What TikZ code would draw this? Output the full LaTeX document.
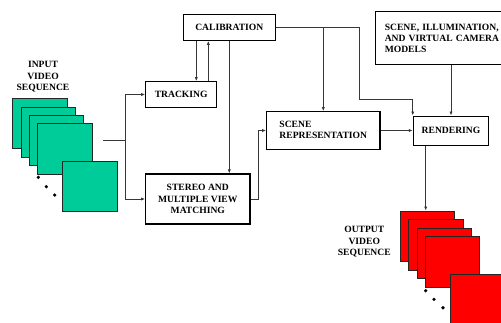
\documentclass[tikz,border=0pt]{standalone}
\usepackage{fontspec}
\setmainfont{Liberation Serif}
\usetikzlibrary{arrows.meta}
\definecolor{framegreen}{RGB}{0,204,153}
\definecolor{framered}{RGB}{255,0,0}
\definecolor{linegray}{RGB}{55,55,55}
\begin{document}
\begin{tikzpicture}[x=1pt,y=-1pt,
  txt/.style={font=\bfseries\fontsize{9.6}{11.5}\selectfont, text=black},
  box/.style={txt, draw=black, line width=1.1pt, fill=white, align=center, inner sep=0pt},
  framein/.style={draw=black!85, fill=framegreen, line width=1pt, minimum width=54.5pt, minimum height=50.5pt, inner sep=0pt},
  frameout/.style={draw=black!85, fill=framered, line width=1pt, minimum width=54.5pt, minimum height=50.5pt, inner sep=0pt},
  conn/.style={draw=linegray, line width=0.8pt},
  arr/.style={conn, -{Latex[length=4pt,width=3.2pt]}},
  dot/.style={circle, fill=black, inner sep=0pt, minimum size=3.6pt}
]
\useasboundingbox (0,0) rectangle (501,322);
\clip (0,0) rectangle (501,322);
\fill[white] (0,0) rectangle (501,322);

% input frames
\node[framein] (in1) at (40,123.7) {};
\node[framein] (in2) at (48.5,132.3) {};
\node[framein] (in3) at (56.7,140.3) {};
\node[framein] (in4) at (64.8,148.8) {};
\node[framein] (in5) at (90.2,186.7) {};
\node[dot] (id1) at (38.3,177.3) {};
\node[dot] (id2) at (46.3,186.7) {};
\node[dot] (id3) at (54.7,195) {};
\node[txt, align=center] (inlab) at (43,77) {INPUT\\VIDEO\\SEQUENCE};

% output frames
\node[frameout] (out1) at (427.7,236.3) {};
\node[frameout] (out2) at (436.2,245) {};
\node[frameout] (out3) at (444.5,253.7) {};
\node[frameout] (out4) at (452.7,261.8) {};
\node[frameout] (out5) at (478,299.5) {};
\node[dot] (od1) at (425.7,290.7) {};
\node[dot] (od2) at (434,299.3) {};
\node[dot] (od3) at (443,307.7) {};
\node[txt, align=center] (outlab) at (364.3,241.7) {OUTPUT\\VIDEO\\SEQUENCE};

% boxes
\node[box, minimum width=92pt, minimum height=25.6pt] (calib) at (229.3,27.5) {CALIBRATION};
\node[box, minimum width=71pt, minimum height=25.6pt] (track) at (181.2,94.5) {TRACKING};
\node[box, minimum width=104.3pt, minimum height=50pt] (stereo) at (197.8,199) {STEREO AND\\MULTIPLE VIEW\\MATCHING};
\node[box, minimum width=113.3pt, minimum height=37.6pt] (scene) at (323.3,130.5)
  {\renewcommand{\arraystretch}{0.96}\begin{tabular}{@{}l@{}}SCENE\\REPRESENTATION\end{tabular}};
\node[box, minimum width=75.4pt, minimum height=29.3pt] (render) at (451,130.7) {RENDERING};
\node[box, anchor=north west, font=\bfseries\fontsize{9.6}{10.8}\selectfont,
      minimum width=140pt, minimum height=53.3pt, text width=121pt, inner xsep=9.3pt, align=left] (models) at (374.7,11)
      {SCENE, ILLUMINATION,\\AND VIRTUAL CAMERA\\MODELS};

% connectors
\coordinate (in0) at (103,140.7);
\coordinate (j) at (125,140.7);
\draw[conn] (in0) -- (j);
\draw[arr] (j) |- (track.west);
\draw[arr] (j) |- (stereo.west);

\coordinate (dn) at (196.3,0);
\coordinate (up) at (208.3,0);
\draw[arr] (calib.south -| dn) -- (track.north -| dn);
\draw[arr] (track.north -| up) -- (calib.south -| up);
\draw[arr] (calib.south) -- (calib.south |- stereo.north);

\coordinate (c1) at (359,27.5);
\coordinate (c2) at (359,99);
\draw[arr] (calib.east) -- (c1) -- (c2) -| (render.north west);
\draw[arr] (calib.east -| scene.north) -- (scene.north);
\draw[arr] (render.north |- models.south) -- (render.north);

\coordinate (s1) at (258.3,0);
\draw[arr] (stereo.east) -- (stereo.east -| s1) |- (scene.west);
\draw[arr] (scene.east) -- (scene.east -| render.west);

\coordinate (r1) at (425.7,0);
\draw[arr] (render.south -| r1) -- (out1.north -| r1);
\end{tikzpicture}
\end{document}
